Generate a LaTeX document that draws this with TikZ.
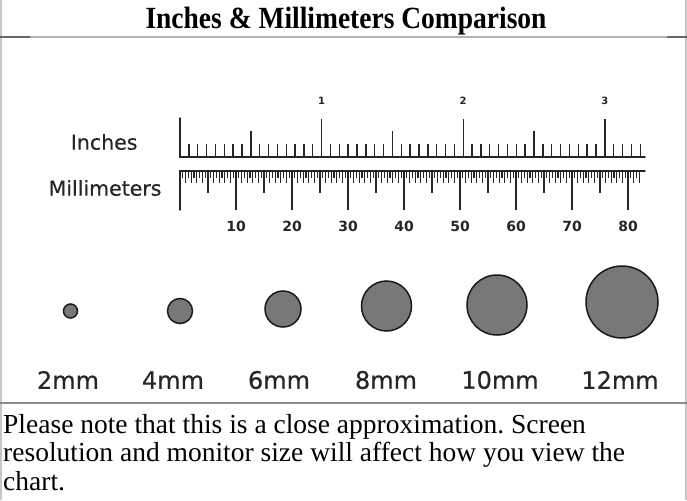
\documentclass[tikz,border=0pt]{standalone}
\usepackage{fontspec}
\setmainfont{Liberation Serif}
\newfontfamily\vsans{DejaVu Sans}
\newfontfamily\vsansb[FakeBold=0.5]{DejaVu Sans}
\frenchspacing
\begin{document}
\begin{tikzpicture}[x=1pt,y=-1pt,
  frame/.style={line width=2pt, black!22},
  rule/.style={line width=2pt, black!30},
  stub/.style={line width=2.5pt, black!60},
  rulerline/.style={line width=1.6pt, black!85, line cap=round},
  inchtick/.style={line width=1.4pt, black!85},
  mmtick/.style={line width=1.1pt, black!85},
  inchnum/.style={font=\vsans\bfseries\fontsize{10}{10}\selectfont, text=black!85},
  mmnum/.style={font=\vsans\bfseries\fontsize{14}{14}\selectfont, text=black!85},
  rulerlabel/.style={font=\vsansb\fontsize{20.5}{20.5}\selectfont, text=black!85, anchor=east},
  dot/.style={circle, draw=black!90, line width=1.5pt, fill=black!53, inner sep=0pt},
  sizelabel/.style={font=\vsansb\fontsize{24}{24}\selectfont, text=black!85},
  note/.style={font=\fontsize{27.5}{28}\selectfont, anchor=base west, inner sep=0pt},
  titletext/.style={font=\bfseries\fontsize{27.5}{27.5}\selectfont, anchor=base, inner sep=0pt}]
\useasboundingbox (0,0) rectangle (687,500);
\fill[white] (0,0) rectangle (687,500);
% frame and rules
\draw[frame] (1,0) -- (1,500);
\draw[frame] (686,0) -- (686,500);
\draw[rule] (0,37) -- (687,37);
\draw[stub] (0,37) -- (30,37);
\draw[stub] (667,37) -- (687,37);
\draw[line width=2.2pt, black!45] (0,403) -- (687,403);
% title
\node[titletext] (title) at (346,28.5) {\scalebox{1}[1.12]{Inches \& Millimeters Comparison}};
% ruler labels
\node[rulerlabel] (inches) at (141,142) {Inches};
\node[rulerlabel] (mm) at (165,188) {Millimeters};
% inch ruler
\draw[rulerline] (180,118) -- (180,157) -- (645,157);
\foreach \i in {1,...,52}{
  \pgfmathsetmacro\xx{180+\i*141.6/16}
  \pgfmathtruncatemacro\mA{mod(\i,16)}
  \pgfmathtruncatemacro\mB{mod(\i,8)}
  \ifnum\mA=0 \def\hh{38}\else\ifnum\mB=0 \def\hh{26}\else\def\hh{13}\fi\fi
  \draw[inchtick] (\xx,157) -- (\xx,{157-\hh});
}
\node[inchnum] (i1) at (321.6,101) {1};
\node[inchnum] (i2) at (463.2,101) {2};
\node[inchnum] (i3) at (604.8,101) {3};
% mm ruler
\draw[rulerline] (180,210) -- (180,171) -- (645,171);
\foreach \j in {1,...,164}{
  \pgfmathsetmacro\xx{180+\j*2.8}
  \pgfmathtruncatemacro\mA{mod(\j,20)}
  \pgfmathtruncatemacro\mB{mod(\j,10)}
  \pgfmathtruncatemacro\mC{mod(\j,2)}
  \ifnum\mA=0 \def\hh{39}\else\ifnum\mB=0 \def\hh{22}\else\ifnum\mC=0 \def\hh{12}\else\def\hh{7}\fi\fi\fi
  \draw[mmtick] (\xx,171) -- (\xx,{171+\hh});
}
\foreach \k in {1,...,8}{
  \node[mmnum] (m\k) at ({180+\k*56},226) {\k0};
}
% circles
\node[dot, minimum size=14] (c2) at (70.5,311) {};
\node[dot, minimum size=25] (c4) at (180,311) {};
\node[dot, minimum size=36] (c6) at (283,309) {};
\node[dot, minimum size=50] (c8) at (386.5,306) {};
\node[dot, minimum size=60] (c10) at (497,305) {};
\node[dot, minimum size=72] (c12) at (622,302) {};
\node[sizelabel] (l2) at (68,380) {2mm};
\node[sizelabel] (l4) at (173,380) {4mm};
\node[sizelabel] (l6) at (279,380) {6mm};
\node[sizelabel] (l8) at (386,380) {8mm};
\node[sizelabel] (l10) at (500,380) {10mm};
\node[sizelabel] (l12) at (620,380) {12mm};
% note
\node[note] (n1) at (3,433) {Please note that this is a close approximation. Screen};
\node[note] (n2) at (3,461) {resolution and monitor size will affect how you view the};
\node[note] (n3) at (3,490) {chart.};
\end{tikzpicture}
\end{document}
